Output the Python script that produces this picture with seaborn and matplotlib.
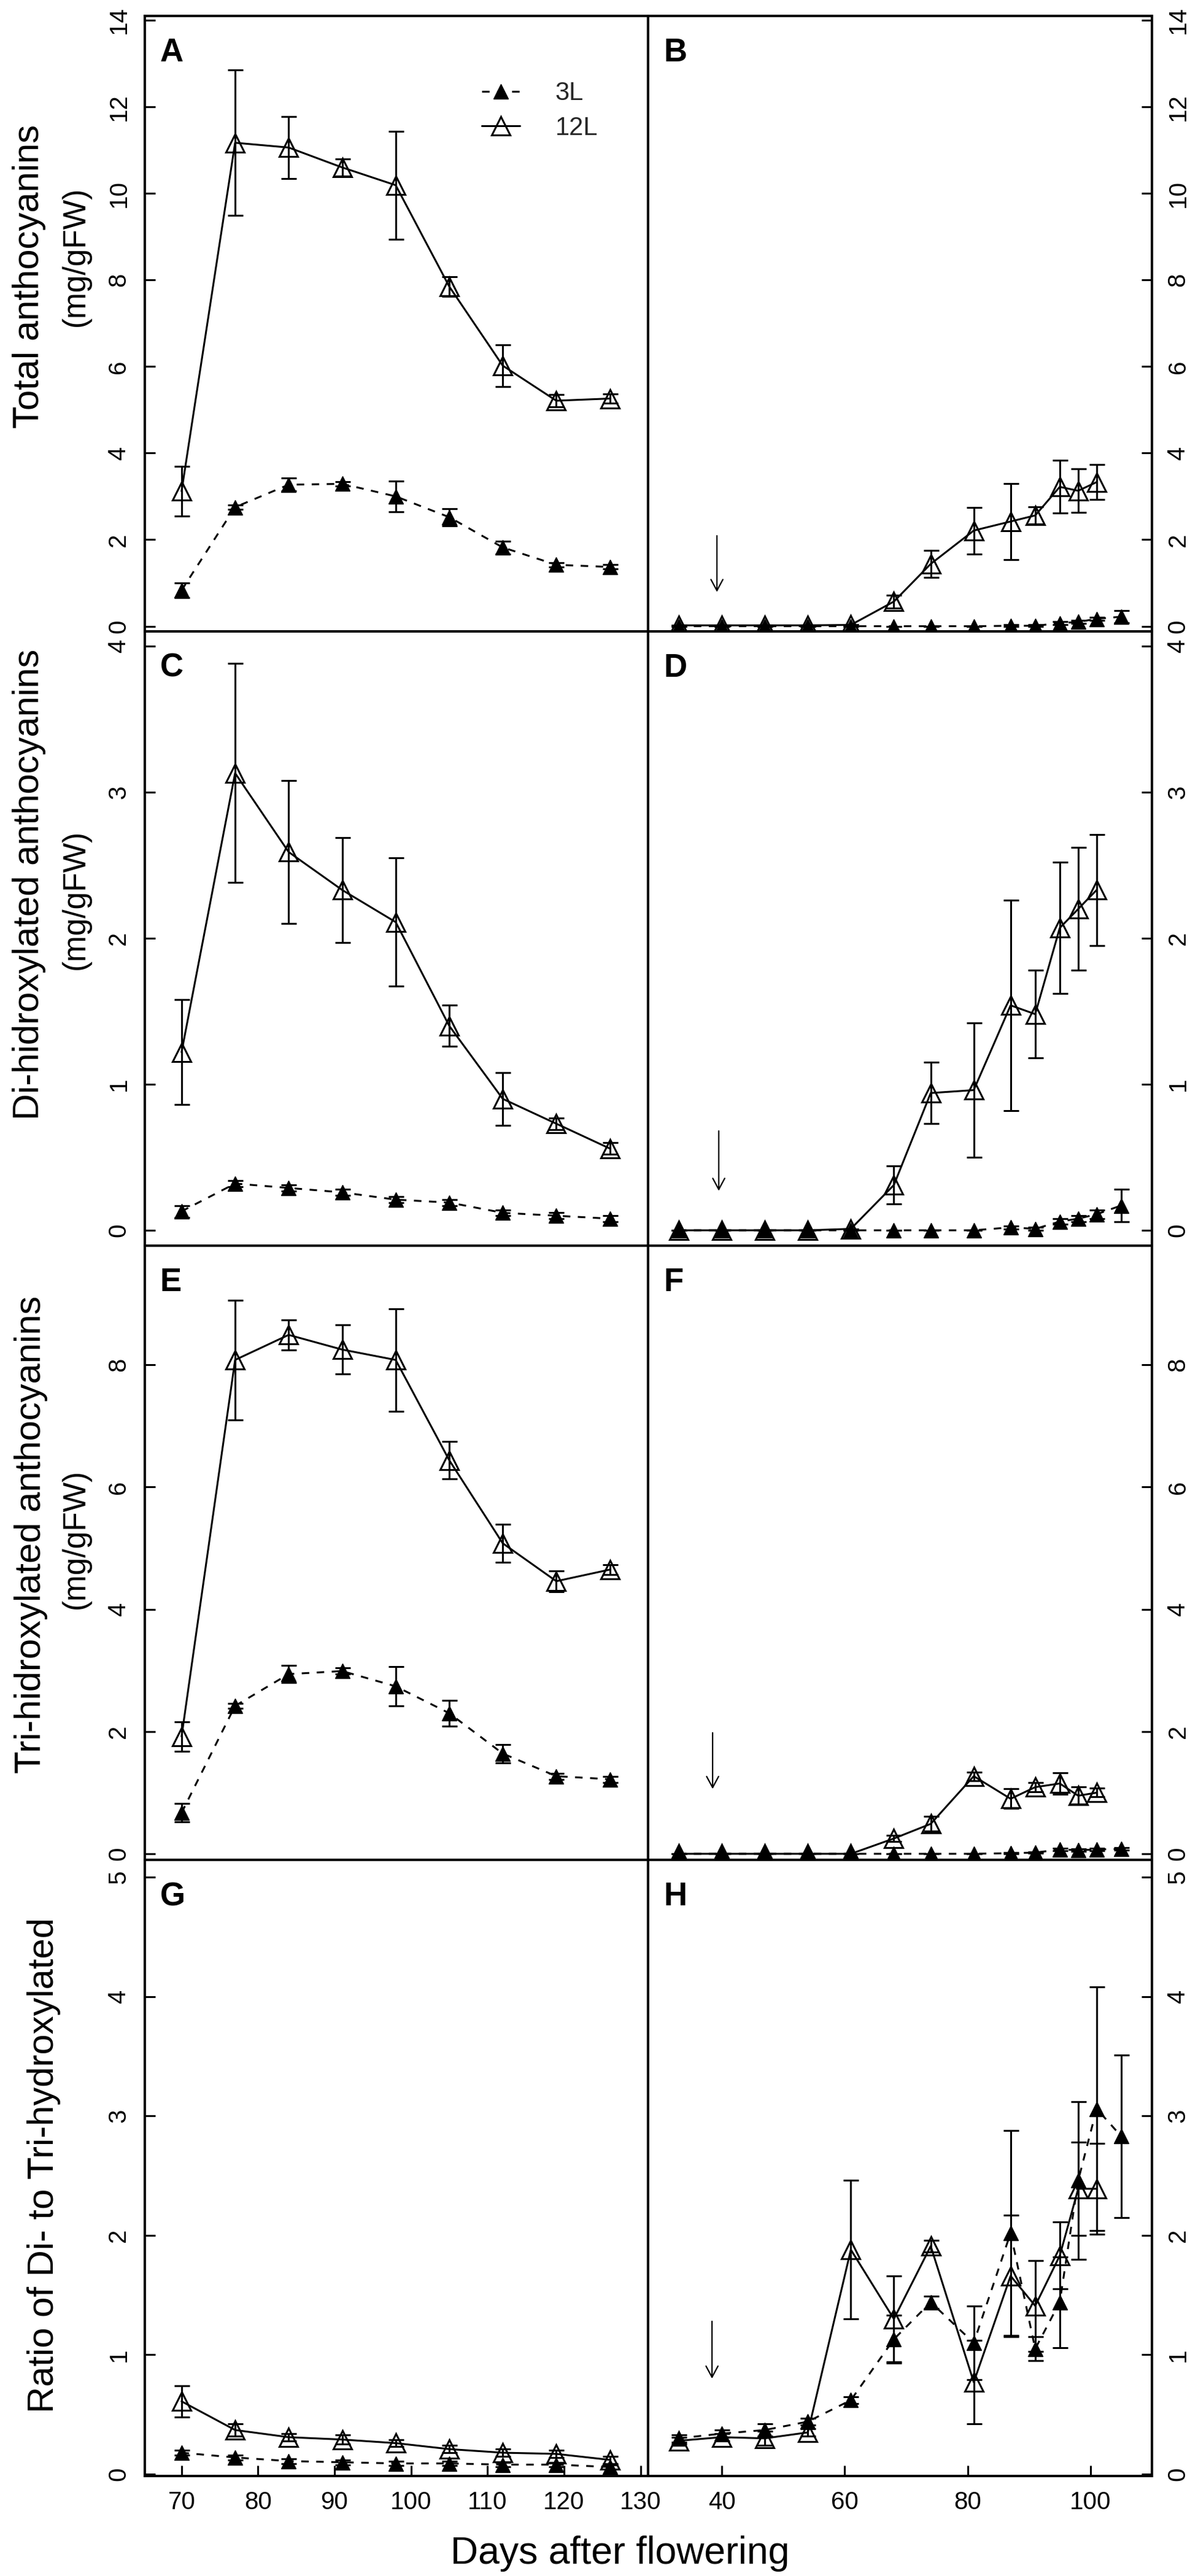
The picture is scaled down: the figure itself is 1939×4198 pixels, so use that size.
import numpy as np
import pandas as pd
import matplotlib
matplotlib.use("Agg")
import matplotlib.pyplot as plt
import seaborn as sns

# ---------------- data ----------------
days_late = [70, 77, 84, 91, 98, 105, 112, 119, 126]
days_early_3L = [33, 40, 47, 54, 61, 68, 74, 81, 87, 91, 95, 98, 101, 105]
days_early_12L = [33, 40, 47, 54, 61, 68, 74, 81, 87, 91, 95, 98, 101]

# A: total anthocyanins, late season
A_12L = [3.12, 11.17, 11.06, 10.60, 10.19, 7.85, 6.02, 5.21, 5.26]
A_12L_err = [0.58, 1.68, 0.72, 0.20, 1.25, 0.23, 0.48, 0.14, 0.10]
A_3L = [0.83, 2.75, 3.27, 3.29, 3.00, 2.52, 1.82, 1.42, 1.37]
A_3L_err = [0.17, 0.05, 0.15, 0.05, 0.35, 0.20, 0.15, 0.05, 0.05]

# B: total anthocyanins, early season
B_12L = [0.02, 0.02, 0.02, 0.02, 0.03, 0.57, 1.44, 2.21, 2.42, 2.56, 3.22, 3.13, 3.33]
B_12L_err = [0, 0, 0, 0, 0, 0.15, 0.31, 0.54, 0.88, 0.20, 0.61, 0.50, 0.40]
B_3L = [0, 0, 0, 0, 0, 0, 0, 0, 0.01, 0.01, 0.07, 0.10, 0.17, 0.22]
B_3L_err = [0, 0, 0, 0, 0, 0, 0, 0, 0.02, 0.02, 0.03, 0.03, 0.03, 0.14]

# C: di-hydroxylated, late season
C_12L = [1.22, 3.13, 2.59, 2.33, 2.11, 1.40, 0.90, 0.73, 0.56]
C_12L_err = [0.36, 0.75, 0.49, 0.36, 0.44, 0.14, 0.18, 0.04, 0.04]
C_3L = [0.13, 0.32, 0.29, 0.26, 0.21, 0.19, 0.12, 0.10, 0.08]
C_3L_err = [0.04, 0.02, 0.02, 0.02, 0.02, 0.02, 0.02, 0.02, 0.02]

# D: di-hydroxylated, early season
D_12L = [0, 0, 0, 0, 0.01, 0.31, 0.94, 0.96, 1.54, 1.48, 2.07, 2.20, 2.33]
D_12L_err = [0, 0, 0, 0, 0, 0.13, 0.21, 0.46, 0.72, 0.30, 0.45, 0.42, 0.38]
D_3L = [0, 0, 0, 0, 0, 0, 0, 0, 0.02, 0.01, 0.06, 0.08, 0.11, 0.17]
D_3L_err = [0, 0, 0, 0, 0, 0, 0, 0, 0.01, 0.01, 0.02, 0.02, 0.03, 0.11]

# E: tri-hydroxylated, late season
E_12L = [1.92, 8.08, 8.49, 8.25, 8.08, 6.44, 5.08, 4.46, 4.65]
E_12L_err = [0.24, 0.98, 0.25, 0.40, 0.84, 0.31, 0.31, 0.17, 0.08]
E_3L = [0.67, 2.42, 2.94, 2.99, 2.74, 2.30, 1.64, 1.27, 1.22]
E_3L_err = [0.15, 0.04, 0.14, 0.05, 0.32, 0.21, 0.15, 0.05, 0.05]

# F: tri-hydroxylated, early season
F_12L = [0, 0, 0, 0, 0, 0.25, 0.49, 1.27, 0.90, 1.09, 1.15, 0.95, 1.00]
F_12L_err = [0, 0, 0, 0, 0, 0.05, 0.12, 0.07, 0.16, 0.08, 0.18, 0.14, 0.07]
F_3L = [0, 0, 0, 0, 0, 0, 0, 0, 0.01, 0.02, 0.07, 0.06, 0.07, 0.08]
F_3L_err = [0, 0, 0, 0, 0, 0, 0, 0, 0.01, 0.01, 0.02, 0.02, 0.02, 0.02]

# G: ratio, late season
G_12L = [0.61, 0.37, 0.31, 0.29, 0.26, 0.21, 0.18, 0.17, 0.12]
G_12L_err = [0.13, 0.05, 0.03, 0.04, 0.03, 0.03, 0.03, 0.03, 0.03]
G_3L = [0.18, 0.14, 0.11, 0.10, 0.09, 0.09, 0.08, 0.08, 0.06]
G_3L_err = [0.02, 0.02, 0.02, 0.02, 0.02, 0.02, 0.02, 0.02, 0.02]

# H: ratio, early season
H_12L = [0.28, 0.31, 0.30, 0.35, 1.88, 1.30, 1.91, 0.77, 1.66, 1.41, 1.83, 2.39, 2.39]
H_12L_err = [0.03, 0.03, 0.06, 0.03, 0.58, 0.36, 0.05, 0.35, 0.51, 0.38, 0.28, 0.39, 0.38]
H_3L = [0.30, 0.34, 0.37, 0.44, 0.62, 1.13, 1.44, 1.10, 2.02, 1.05, 1.44, 2.46, 3.06, 2.83]
H_3L_err = [0.03, 0.03, 0.05, 0.03, 0.03, 0.20, 0.05, 0.31, 0.86, 0.10, 0.38, 0.66, 1.02, 0.68]

panel_letters = ["A", "B", "C", "D", "E", "F", "G", "H"]
ylab_main = ["Total anthocyanins", "Di-hidroxylated anthocyanins",
             "Tri-hidroxylated anthocyanins", "Ratio of Di- to Tri-hydroxylated"]
ylab_sub = ["(mg/gFW)", "(mg/gFW)", "(mg/gFW)", ""]
xlabel = "Days after flowering"
legend_labels = ["3L", "12L"]

yticks_rows = [[0, 2, 4, 6, 8, 10, 12, 14], [0, 1, 2, 3, 4],
               [0, 2, 4, 6, 8], [0, 1, 2, 3, 4, 5]]
xticks_late = [70, 80, 90, 100, 110, 120, 130]
xticks_early = [40, 60, 80, 100]

# arrows (day, top value, bottom value) in the early-season panels
arrow_x = [39.2, 39.5, 38.5, 38.4]
arrow_top = [2.09, 0.68, 1.98, 1.28]
arrow_bottom = [0.79, 0.27, 1.06, 0.80]

# ---------------- style / layout ----------------
sns.set_theme(style="ticks")
plt.rcParams['font.family'] = ['Liberation Sans', 'DejaVu Sans']

W, H = 1940, 4198
fig = plt.figure(figsize=(W / 100, H / 100), dpi=100)

col_px = [236, 1056, 1877]
row_px = [26, 1029, 2030, 3031, 4035]
ylims = [(-0.12, 14.1), (-0.105, 4.1), (-0.1, 9.95), (-0.015, 5.144)]
xlim_late = (65.2, 131.0)
xlim_early = (28.0, 110.0)

LW = 2.2
CAP = 9


def rect(c, r):
    x0 = col_px[c] / W
    x1 = col_px[c + 1] / W
    yt = 1 - row_px[r] / H
    yb = 1 - row_px[r + 1] / H
    return [x0, yb, x1 - x0, yt - yb]


def draw(ax, x3, y3, e3, x12, y12, e12):
    ax.errorbar(x12, y12, yerr=e12, fmt='none', ecolor='black',
                elinewidth=LW, capsize=CAP, capthick=LW, zorder=2)
    ax.errorbar(x3, y3, yerr=e3, fmt='none', ecolor='black',
                elinewidth=LW, capsize=CAP, capthick=LW, zorder=2)
    sns.lineplot(x=x12, y=y12, ax=ax, color='black', lw=LW, marker='^',
                 markersize=22, markerfacecolor='none', markeredgecolor='black',
                 markeredgewidth=LW, label=legend_labels[1], legend=False, zorder=3)
    sns.lineplot(x=x3, y=y3, ax=ax, color='black', lw=LW, linestyle=(0, (4, 4)),
                 marker='^', markersize=17, markerfacecolor='black',
                 markeredgecolor='black', markeredgewidth=1.0,
                 label=legend_labels[0], legend=False, zorder=4)


rows = [
    (A_3L, A_3L_err, A_12L, A_12L_err, B_3L, B_3L_err, B_12L, B_12L_err),
    (C_3L, C_3L_err, C_12L, C_12L_err, D_3L, D_3L_err, D_12L, D_12L_err),
    (E_3L, E_3L_err, E_12L, E_12L_err, F_3L, F_3L_err, F_12L, F_12L_err),
    (G_3L, G_3L_err, G_12L, G_12L_err, H_3L, H_3L_err, H_12L, H_12L_err),
]

axes = []
for r, (l3, l3e, l12, l12e, e3, e3e, e12, e12e) in enumerate(rows):
    for c in range(2):
        ax = fig.add_axes(rect(c, r))
        axes.append(ax)
        if c == 0:
            draw(ax, days_late, l3, l3e, days_late, l12, l12e)
            ax.set_xlim(*xlim_late)
        else:
            draw(ax, days_early_3L, e3, e3e, days_early_12L, e12, e12e)
            ax.set_xlim(*xlim_early)
            ax.annotate('', xy=(arrow_x[r], arrow_bottom[r]),
                        xytext=(arrow_x[r], arrow_top[r]),
                        arrowprops=dict(arrowstyle='->,head_length=1.3,head_width=0.7',
                                        lw=1.6, color='black', shrinkA=0, shrinkB=0,
                                        mutation_scale=10))
        ax.set_ylim(*ylims[r])
        ax.set_yticks(yticks_rows[r])
        ax.set_xlabel('')
        ax.set_ylabel('')
        for sp in ax.spines.values():
            sp.set_visible(True)
            sp.set_linewidth(2.8)
            sp.set_color('black')
        ax.tick_params(direction='in', length=12, width=2.2, labelsize=29,
                       pad=17, colors='black')
        if c == 0:
            ax.tick_params(axis='y', left=True, right=False,
                           labelleft=True, labelright=False)
        else:
            ax.yaxis.tick_right()
            ax.tick_params(axis='y', left=False, right=True,
                           labelleft=False, labelright=True)
        if r == 3:
            ax.set_xticks(xticks_late if c == 0 else xticks_early)
            ax.tick_params(axis='x', bottom=True, top=False,
                           labelbottom=True, labeltop=False)
        else:
            ax.tick_params(axis='x', bottom=False, top=False,
                           labelbottom=False, labeltop=False)
        ax.text(25 / 820, 1 - 35 / 1002, panel_letters[2 * r + c],
                transform=ax.transAxes, ha='left', va='top',
                fontsize=38, fontweight='bold', color='black')
        plt.setp(ax.get_yticklabels(), rotation=90, va='center')

# legend in panel A
axA = axes[0]
handles, labels = axA.get_legend_handles_labels()
hmap = dict(zip(labels, handles))
axA.legend([hmap[legend_labels[0]], hmap[legend_labels[1]]], legend_labels,
           loc='upper left', bbox_to_anchor=(0.669, 0.894), frameon=False,
           fontsize=30, handlelength=1.5, handletextpad=1.38, labelspacing=0.4,
           borderpad=0, borderaxespad=0, numpoints=1)

# y axis labels
main_base_x = [63, 63, 66, 87]
main_center_y = [451, 1441, 2501, 3528]
sub_base_x = 137
sub_center_y = [418, 1466, 2508]
for i in range(4):
    fig.text(main_base_x[i] / W, 1 - main_center_y[i] / H, ylab_main[i],
             rotation=90, rotation_mode='anchor', ha='center', va='baseline',
             fontsize=43, color='black')
    if ylab_sub[i]:
        fig.text(sub_base_x / W, 1 - sub_center_y[i] / H, ylab_sub[i],
                 rotation=90, rotation_mode='anchor', ha='center', va='baseline',
                 fontsize=37, color='black')

fig.text(1010 / W, 1 - 4178 / H, xlabel, ha='center', va='baseline',
         fontsize=45, color='black')

fig.savefig("out.png", dpi=100)
